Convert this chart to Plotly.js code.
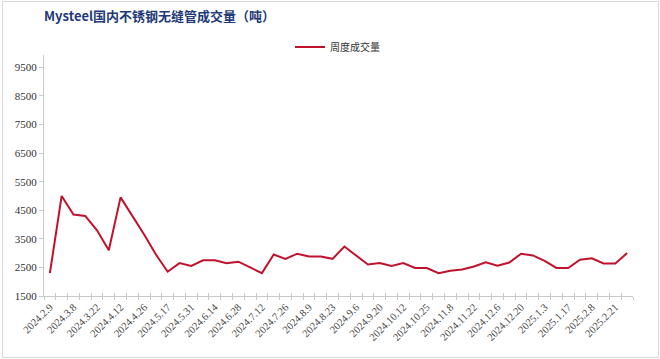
<!DOCTYPE html>
<html>
<head>
<meta charset="utf-8">
<script src="https://cdn.plot.ly/plotly-3.0.1.min.js"></script>
<style>
html,body{margin:0;padding:0;background:#fff;}
#wrap{position:relative;width:660px;height:359px;}
#chart{width:660px;height:359px;}
#frame{position:absolute;left:2px;top:1px;width:655px;height:355px;border:1px solid #d9d9d9;pointer-events:none;}
</style>
</head>
<body>
<div id="wrap"><div id="chart"></div><div id="frame"></div></div>
<script>
var titleText = "Mysteel国内不锈钢无缝管成交量（吨）";
var seriesName = "周度成交量";
var weeks = ["2024.2.9","2024.3.1","2024.3.8","2024.3.15","2024.3.22","2024.3.29","2024.4.12","2024.4.19","2024.4.26","2024.5.10",
"2024.5.17","2024.5.24","2024.5.31","2024.6.7","2024.6.14","2024.6.21","2024.6.28","2024.7.5","2024.7.12","2024.7.19",
"2024.7.26","2024.8.2","2024.8.9","2024.8.16","2024.8.23","2024.8.30","2024.9.6","2024.9.13","2024.9.20","2024.9.27",
"2024.10.12","2024.10.18","2024.10.25","2024.11.1","2024.11.8","2024.11.15","2024.11.22","2024.11.29","2024.12.6","2024.12.13",
"2024.12.20","2024.12.27","2025.1.3","2025.1.10","2025.1.17","2025.1.24","2025.2.8","2025.2.14","2025.2.21","2025.2.28"];
var volume = [2300,5000,4350,4300,3800,3100,4950,4300,3650,2950,
2350,2650,2550,2750,2750,2650,2700,2500,2300,2950,
2800,2980,2880,2880,2800,3230,2920,2600,2650,2550,
2650,2480,2480,2300,2380,2430,2530,2680,2560,2670,
2980,2920,2730,2480,2480,2770,2820,2640,2640,3000];
var yTicks = [1500,2500,3500,4500,5500,6500,7500,8500,9500];

var tickText = weeks.map(function(w,i){return i%2===0 ? w : "";});

var traces = [
  {x: weeks, y: volume, type: "scatter", mode: "lines", name: seriesName,
   line: {color: "#C0122C", width: 2}, hoverinfo: "x+y"},
  {x: weeks, y: volume, xaxis: "x2", type: "scatter", mode: "lines", showlegend: false,
   line: {width: 0, color: "rgba(0,0,0,0)"}, hoverinfo: "skip"}
];

var layout = {
  width: 660, height: 359,
  margin: {l: 44, r: 27, t: 55, b: 63},
  paper_bgcolor: "#ffffff", plot_bgcolor: "#ffffff",
  title: {text: "<b>" + titleText + "</b>", x: 44/660, xanchor: "left", y: 1 - 16/359, yanchor: "middle",
          font: {family: "Noto Sans CJK SC", size: 13, color: "#1F3A78"}},
  showlegend: true,
  legend: {x: (290-44)/589, xanchor: "left", y: 1 + (55-47)/241, yanchor: "middle", orientation: "h",
           font: {family: "Noto Sans CJK SC", size: 10, color: "#333"}, bgcolor: "rgba(0,0,0,0)"},
  xaxis: {type: "category", range: [-0.5, 49.5], tickvals: weeks, ticktext: tickText,
          tickson: "boundaries", ticks: "outside", ticklen: 3, tickcolor: "#c8c8c8", tickwidth: 1,
          showline: true, linecolor: "#c8c8c8", linewidth: 1, showgrid: false, zeroline: false,
          tickangle: -45, tickfont: {family: "Liberation Serif", size: 10.5, color: "#444"}, automargin: false},
  xaxis2: {type: "category", overlaying: "x", anchor: "y", side: "bottom", range: [-0.5, 49.5], tickvals: weeks,
           showticklabels: false, tickson: "boundaries", ticks: "inside", ticklen: 3, tickcolor: "#c8c8c8",
           showline: false, showgrid: false, zeroline: false},
  yaxis: {range: [1500, 9930], tickvals: yTicks, ticktext: yTicks.map(String),
          ticks: "outside", ticklen: 4, tickcolor: "#c8c8c8", showline: true, linecolor: "#c8c8c8", linewidth: 1,
          showgrid: false, zeroline: false, tickfont: {family: "Liberation Serif", size: 11, color: "#333"}, automargin: false}
};

Plotly.newPlot("chart", traces, layout, {displayModeBar: false, staticPlot: true});
</script>
</body>
</html>
